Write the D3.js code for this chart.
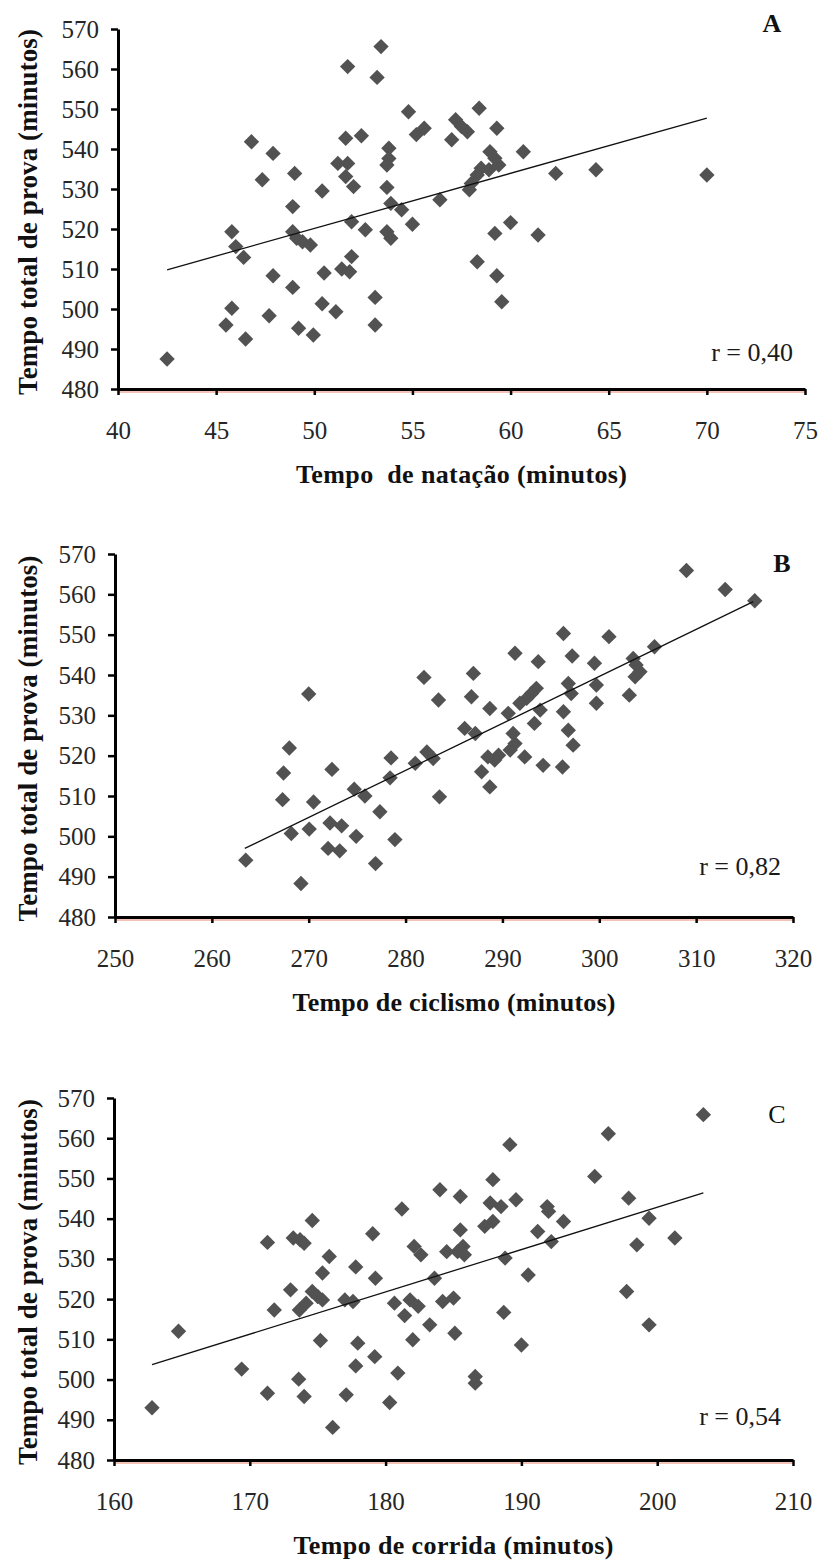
<!DOCTYPE html>
<html>
<head>
<meta charset="utf-8">
<script src="https://cdn.jsdelivr.net/npm/d3@7"></script>
<style>
  body { margin: 0; background: #fff; }
  text { font-family: "Liberation Serif", "Times New Roman", serif; }
</style>
</head>
<body>
<div id="chart"></div>
<script>
// tempo de natação x tempo total (min)
const natacao = [
  [42.5, 487.5],
  [45.8, 519.3], [46.0, 515.6], [46.4, 512.9], [45.8, 500.2], [45.5, 496.0], [46.5, 492.5],
  [46.8, 541.8], [47.35, 532.3], [47.9, 538.9], [47.9, 508.3], [47.7, 498.3],
  [49.0, 533.9], [48.9, 525.6], [48.9, 519.3], [49.1, 517.7], [49.4, 516.8], [49.8, 516.0],
  [48.9, 505.4], [49.2, 495.2], [49.95, 493.5],
  [50.4, 529.5], [50.5, 509.0], [50.4, 501.3], [51.1, 499.3],
  [51.4, 510.0], [51.8, 509.3], [51.9, 513.1],
  [51.2, 536.4], [51.7, 536.4], [51.6, 533.1], [52.0, 530.6],
  [51.6, 542.7], [52.4, 543.3], [51.7, 560.6], [51.9, 521.8], [52.6, 519.8],
  [53.4, 565.6], [53.2, 557.9], [53.1, 502.9], [53.1, 496.0],
  [53.8, 540.2], [53.8, 537.6], [53.7, 536.0], [53.7, 530.4], [53.9, 526.4],
  [53.7, 519.3], [53.9, 517.7], [54.45, 524.8], [54.8, 549.3], [55.2, 543.6],
  [55.0, 521.2], [55.6, 545.2],
  [57.2, 547.3], [57.5, 545.6], [57.8, 544.3], [57.0, 542.3], [58.4, 550.2], [59.3, 545.2],
  [58.95, 539.3], [59.2, 537.7], [59.4, 536.0], [58.5, 535.2], [58.9, 534.8], [58.3, 533.5],
  [58.0, 531.4], [57.9, 529.8], [60.65, 539.3], [56.4, 527.3], [62.3, 533.9], [64.35, 534.8],
  [70.0, 533.5], [59.2, 518.9], [60.0, 521.6], [61.4, 518.5], [58.3, 511.8], [59.3, 508.3],
  [59.55, 501.8]
];

// tempo de ciclismo x tempo total (min)
const ciclismo = [
  [263.5, 494.1], [270.0, 535.3], [268.0, 521.9], [267.4, 515.7], [267.3, 509.1], [268.2, 500.7],
  [270.05, 501.8], [270.5, 508.5], [269.2, 488.3], [272.4, 516.6], [272.2, 503.3], [273.4, 502.6],
  [272.0, 497.0], [273.2, 496.4], [274.9, 500.0], [274.7, 511.7], [275.8, 510.0], [277.35, 506.1],
  [276.9, 493.25], [278.9, 499.2], [278.5, 519.45], [278.4, 514.5],
  [281.0, 518.1], [281.9, 539.4], [282.2, 520.9], [282.85, 519.3], [283.5, 509.8],
  [309.0, 565.9], [313.0, 561.2], [316.05, 558.4], [296.3, 550.3], [301.0, 549.5], [305.7, 547.0],
  [291.3, 545.4], [293.7, 543.3], [297.2, 544.7], [299.5, 542.9], [303.5, 544.1], [303.8, 542.5],
  [304.2, 540.8], [303.7, 539.55], [303.1, 535.0],
  [287.0, 540.4], [283.4, 533.8], [286.8, 534.6], [288.7, 531.7],
  [293.5, 536.7], [293.0, 535.4], [292.5, 534.2], [291.8, 533.0], [293.9, 531.3], [296.8, 537.9],
  [297.1, 535.4], [299.7, 537.5], [299.7, 533.0], [290.6, 530.5], [296.3, 530.9], [293.3, 528.0],
  [296.8, 526.3], [297.3, 522.6], [286.1, 526.75], [287.2, 525.5], [291.1, 525.5], [291.3, 523.0],
  [290.8, 521.4], [289.6, 520.1], [288.5, 519.7], [289.2, 518.9], [292.3, 519.7], [294.2, 517.6],
  [296.2, 517.2], [287.85, 516.0], [288.7, 512.25]
];

// tempo de corrida x tempo total (min)
const corrida = [
  [162.8, 493.0], [164.75, 512.0], [169.4, 502.6], [171.3, 496.6], [171.3, 534.1], [171.8, 517.3],
  [173.2, 535.2], [173.7, 534.75], [174.0, 533.9], [174.6, 539.55], [173.0, 522.3], [173.65, 517.3],
  [174.15, 519.0], [174.6, 521.9], [175.0, 520.65], [175.35, 519.8], [175.35, 526.5], [175.85, 530.6],
  [177.0, 519.8], [177.6, 519.4], [177.8, 528.0], [179.05, 536.25], [179.25, 525.2], [181.2, 542.4],
  [180.65, 519.0], [181.4, 515.9], [182.0, 509.9], [182.1, 533.1], [175.2, 509.7], [177.95, 509.05],
  [179.2, 505.7], [177.8, 503.4], [173.6, 500.1], [174.0, 495.8], [177.1, 496.2], [180.9, 501.6],
  [180.3, 494.3], [176.1, 488.1],
  [203.4, 565.85], [196.4, 561.1], [189.15, 558.4], [195.4, 550.5], [187.9, 549.7], [184.0, 547.2],
  [185.5, 545.5], [197.9, 545.1], [187.7, 543.9], [188.5, 543.0], [189.6, 544.7], [191.9, 543.0],
  [192.0, 541.8], [199.4, 540.1], [193.1, 539.3], [187.9, 539.3], [187.3, 538.1], [185.5, 537.2],
  [185.7, 533.1], [185.3, 531.8], [185.8, 531.0], [191.2, 536.8], [192.2, 534.3], [201.3, 535.2],
  [198.5, 533.5], [182.6, 531.0], [184.5, 531.8], [188.8, 530.2], [183.6, 525.2], [190.5, 526.0],
  [197.75, 521.9], [181.8, 519.8], [182.4, 518.2], [184.2, 519.4], [185.0, 520.25], [183.25, 513.6],
  [185.1, 511.5], [188.7, 516.7], [199.4, 513.6], [190.0, 508.6], [186.6, 500.75], [186.6, 499.1]
];

// retas de regressão (extremos)
const trendA = [[42.5, 509.8], [70.0, 547.7]];
const trendB = [[263.4, 497.0], [315.9, 558.2]];
const trendC = [[162.8, 503.7], [203.4, 546.4]];

const yTicks = [480, 490, 500, 510, 520, 530, 540, 550, 560, 570];
const xTicksA = [40, 45, 50, 55, 60, 65, 70, 75];
const xTicksB = [250, 260, 270, 280, 290, 300, 310, 320];
const xTicksC = [160, 170, 180, 190, 200, 210];

const xTitles = ['Tempo  de natação (minutos)', 'Tempo de ciclismo (minutos)', 'Tempo de corrida (minutos)'];
const yTitle = 'Tempo total de prova (minutos)';
const letters = ['A', 'B', 'C'];
const rLabels = ['r = 0,40', 'r = 0,82', 'r = 0,54'];

const width = 822, height = 1561;

const svg = d3.select('#chart')
  .append('svg')
  .attr('width', width)
  .attr('height', height);

const panels = [
  { pts: natacao, trend: trendA, ticks: xTicksA, left: 118, right: 805, top: 29, bottom: 389, rY: 361, letX: 772, letY: 32, bold: true, titleW: 331 },
  { pts: ciclismo, trend: trendB, ticks: xTicksB, left: 115, right: 793, top: 554, bottom: 917, rY: 875, letX: 782, letY: 572, bold: true, titleW: 323 },
  { pts: corrida, trend: trendC, ticks: xTicksC, left: 114, right: 793, top: 1098, bottom: 1460, rY: 1425, letX: 777, letY: 1123, bold: false, titleW: 320 }
];

const diamond = d3.symbol().type(d3.symbolSquare).size(118);

panels.forEach((p, i) => {
  const xScale = d3.scaleLinear()
    .domain(d3.extent(p.ticks))
    .range([p.left, p.right]);
  const yScale = d3.scaleLinear()
    .domain(d3.extent(yTicks))
    .range([p.bottom, p.top]);

  // faint reddish shadow under the x axis (scan artefact)
  svg.append('line')
    .attr('x1', p.left).attr('x2', p.right)
    .attr('y1', p.bottom + 3).attr('y2', p.bottom + 3)
    .attr('stroke', '#f3c4b6')
    .attr('stroke-width', 2);

  const xAxis = d3.axisBottom(xScale)
    .tickValues(p.ticks)
    .tickSizeInner(6)
    .tickSizeOuter(0)
    .tickPadding(26)
    .tickFormat(d3.format('d'));
  const yAxis = d3.axisLeft(yScale)
    .tickValues(yTicks)
    .tickSizeInner(7)
    .tickSizeOuter(0)
    .tickPadding(12)
    .tickFormat(d3.format('d'));

  const gx = svg.append('g')
    .attr('transform', 'translate(0,' + p.bottom + ')')
    .call(xAxis);
  const gy = svg.append('g')
    .attr('transform', 'translate(' + p.left + ',0)')
    .call(yAxis);

  [gx, gy].forEach(g => {
    g.select('.domain').attr('stroke', '#000').attr('stroke-width', 3);
    g.selectAll('.tick line').attr('stroke', '#000').attr('stroke-width', 2.5);
    g.selectAll('.tick text')
      .attr('fill', '#262626')
      .style('font-family', '"Liberation Serif", serif')
      .style('font-size', '25px');
  });

  // pontos
  svg.append('g')
    .selectAll('path')
    .data(p.pts)
    .join('path')
    .attr('d', diamond)
    .attr('transform', d => 'translate(' + xScale(d[0]) + ',' + yScale(d[1]) + ') rotate(45)')
    .attr('fill', '#525252');

  // reta
  const linePath = d3.line()
    .x(d => xScale(d[0]))
    .y(d => yScale(d[1]));
  svg.append('path')
    .datum(p.trend)
    .attr('d', linePath)
    .attr('fill', 'none')
    .attr('stroke', '#111')
    .attr('stroke-width', 1.3);

  // títulos
  svg.append('text')
    .attr('x', (p.left + p.right) / 2)
    .attr('y', p.bottom + 94)
    .attr('text-anchor', 'middle')
    .attr('textLength', p.titleW)
    .style('white-space', 'pre')
    .style('font-size', '26px')
    .style('font-weight', 'bold')
    .attr('fill', '#111')
    .text(xTitles[i]);

  svg.append('text')
    .attr('transform', 'translate(37,' + ((p.top + p.bottom) / 2 + 3) + ') rotate(-90)')
    .attr('text-anchor', 'middle')
    .attr('textLength', 366)
    .style('font-size', '27px')
    .style('font-weight', 'bold')
    .attr('fill', '#111')
    .text(yTitle);

  svg.append('text')
    .attr('x', p.letX)
    .attr('y', p.letY)
    .attr('text-anchor', 'middle')
    .style('font-size', '26px')
    .style('font-weight', p.bold ? 'bold' : 'normal')
    .attr('fill', '#111')
    .text(letters[i]);

  svg.append('text')
    .attr('x', p.right - 12)
    .attr('y', p.rY)
    .attr('text-anchor', 'end')
    .style('font-size', '26px')
    .attr('fill', '#1a1a1a')
    .text(rLabels[i]);
});
</script>
</body>
</html>
